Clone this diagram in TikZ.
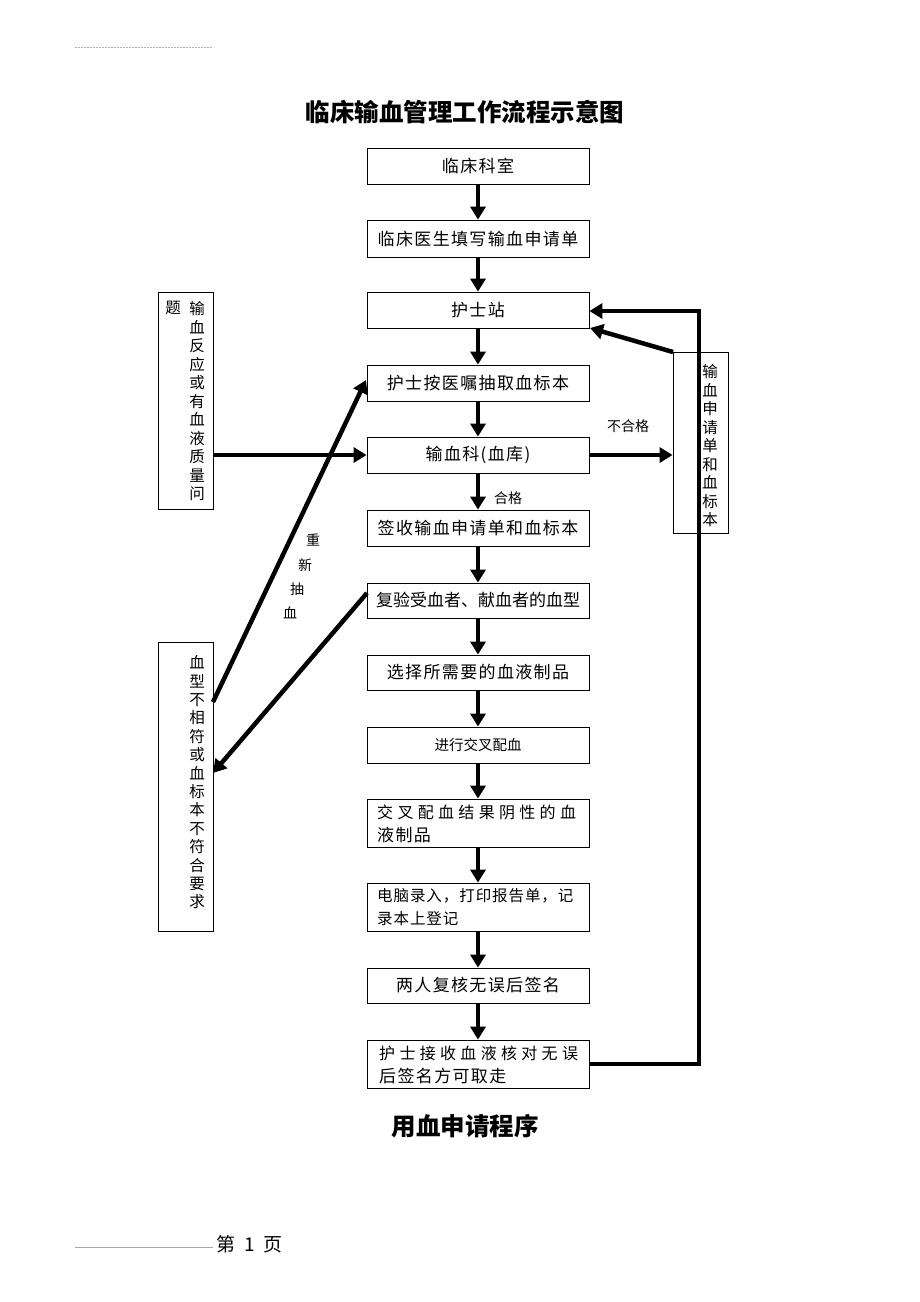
\documentclass[tikz,border=0pt]{standalone}
\usepackage{fontspec}
\setmainfont{Liberation Serif}
\newfontfamily\cjk{Noto Sans CJK SC}
\newfontfamily\cjkbox{Noto Sans CJK SC}[LetterSpace=8]
\newfontfamily\cjksp{Noto Sans CJK SC}[LetterSpace=27]
\newfontfamily\cjksm{Noto Sans CJK SC}[LetterSpace=6]
\usetikzlibrary{arrows.meta}
\begin{document}
\begin{tikzpicture}[x=1pt,y=-1pt,
  box/.style={draw, line width=0.8pt, minimum width=222pt, inner sep=0pt, font=\cjkbox\fontsize{17}{17}\selectfont},
  vbox/.style={draw, line width=0.8pt, minimum width=55pt, inner sep=0pt},
  vtxt/.style={align=center, inner sep=0pt, font=\cjk\fontsize{15.5}{18.5}\selectfont},
  flow/.style={line width=4.5pt, -{Triangle[length=13pt,width=15pt]}},
  lbl/.style={inner sep=0pt, font=\cjk\fontsize{14}{14}\selectfont},
  ltxt/.style={anchor=west, inner sep=0pt}]
\useasboundingbox (0,0) rectangle (920,1302);
\fill[white] (0,0) rectangle (920,1302);
% header / footer
\coordinate (h1) at (75,47); \coordinate (h2) at (213,47);
\draw[gray!60, line width=0.5pt, dash pattern=on 2pt off 1pt] (h1) -- (h2);
\coordinate (f1) at (75,1247); \coordinate (f2) at (213,1247);
\draw[gray!70, line width=0.5pt] (f1) -- (f2);
\node[anchor=west, inner sep=0pt, font=\cjk\fontsize{19}{19}\selectfont] (page) at (216,1244) {第\hspace{9pt}1\hspace{9pt}页};
\node[font=\cjk\bfseries\fontsize{24.5}{24.5}\selectfont, inner sep=0pt] (title) at (465,112) {临床输血管理工作流程示意图};
\node[font=\cjk\bfseries\fontsize{24.5}{24.5}\selectfont, inner sep=0pt] (sub) at (465,1126) {用血申请程序};
% main boxes
\node[box, minimum height=36pt] (b1) at (478,166) {临床科室};
\node[box, minimum height=37pt] (b2) at (478,238.5) {临床医生填写输血申请单};
\node[box, minimum height=36pt] (b3) at (478,310) {护士站};
\node[box, minimum height=36pt] (b4) at (478,383) {护士按医嘱抽取血标本};
\node[box, minimum height=36pt] (b5) at (478,455) {输血科(血库)};
\node[box, minimum height=36pt] (b6) at (478,528) {签收输血申请单和血标本};
\node[box, minimum height=35pt, font=\cjk\fontsize{17}{17}\selectfont] (b7) at (478,600.5) {复验受血者、献血者的血型};
\node[box, minimum height=35pt] (b8) at (478,672.5) {选择所需要的血液制品};
\node[box, minimum height=36pt, font=\cjk\fontsize{14.5}{14.5}\selectfont] (b9) at (478,745) {进行交叉配血};
\node[box, minimum height=48pt] (b10) at (478,823) {};
\node[ltxt, font=\cjksp\fontsize{16}{16}\selectfont] (t10a) at (377,812) {交叉配血结果阴性的血};
\node[ltxt, font=\cjkbox\fontsize{17}{17}\selectfont] (t10b) at (377,835) {液制品};
\node[box, minimum height=48pt] (b11) at (478,907) {};
\node[ltxt, font=\cjksm\fontsize{15.5}{15.5}\selectfont] (t11a) at (377,896) {电脑录入，打印报告单，记};
\node[ltxt, font=\cjksm\fontsize{15.5}{15.5}\selectfont] (t11b) at (377,919) {录本上登记};
\node[box, minimum height=35pt] (b12) at (478,985.5) {两人复核无误后签名};
\node[box, minimum height=48pt] (b13) at (478,1064) {};
\node[ltxt, font=\cjksp\fontsize{16}{16}\selectfont] (t13a) at (379,1053) {护士接收血液核对无误};
\node[ltxt, font=\cjkbox\fontsize{17}{17}\selectfont] (t13b) at (379,1076) {后签名方可取走};
% side boxes
\node[vbox, minimum height=217pt] (L1) at (185.5,400.5) {};
\node[vtxt] (L1t) at (197,401.5) {输\\血\\反\\应\\或\\有\\血\\液\\质\\量\\问};
\node[vtxt] (L1q) at (173,308) {题};
\node[vbox, minimum height=289pt] (L2) at (185.5,786.5) {};
\node[vtxt, font=\cjk\fontsize{15.5}{18.4}\selectfont] (L2t) at (197,782.5) {血\\型\\不\\相\\符\\或\\血\\标\\本\\不\\符\\合\\要\\求};
\node[vbox, minimum height=181pt] (R) at (700.5,442.5) {};
\node[vtxt] (Rt) at (710,446) {输\\血\\申\\请\\单\\和\\血\\标\\本};
% labels
\node[lbl] (ng) at (628,426) {不合格};
\node[lbl] (ok) at (508,498) {合格};
\node[lbl] (r1) at (313,540) {重};
\node[lbl] (r2) at (305,565) {新};
\node[lbl] (r3) at (297,589) {抽};
\node[lbl] (r4) at (290,613) {血};
% main arrows
\foreach \a/\b in {b1/b2,b2/b3,b3/b4,b4/b5,b5/b6,b6/b7,b7/b8,b8/b9,b9/b10,b10/b11,b11/b12,b12/b13}
  \draw[flow] (\a.south) -- (\b.north);
% side arrows
\draw[flow] (L1.east |- b5.west) -- (b5.west);
\draw[flow] (b5.east) -- (R.west |- b5.east);
\coordinate (L2a) at (213,702);
\coordinate (B4a) at (366,380);
\draw[flow] (L2a) -- (B4a);
\coordinate (B7a) at (367,593);
\coordinate (L2b) at (213,773);
\draw[flow] (B7a) -- (L2b);
\coordinate (Rtl) at (673,352);
\coordinate (B3r) at (590,328);
\draw[flow] (Rtl) -- (B3r);
\coordinate (c1) at (699,1064);
\coordinate (c2) at (699,311);
\draw[flow] (b13.east) -- (c1) -- (c2) -- (b3.east |- c2);
\end{tikzpicture}
\end{document}
